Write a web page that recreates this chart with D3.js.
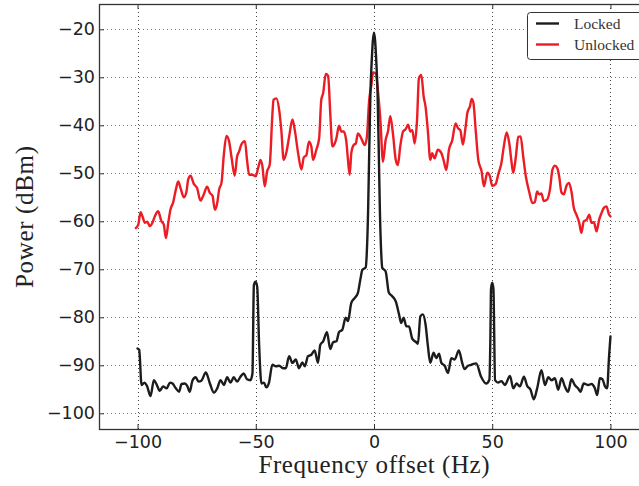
<!DOCTYPE html>
<html>
<head>
<meta charset="utf-8">
<script src="https://cdn.jsdelivr.net/npm/d3@7"></script>
<style>
  body { margin: 0; background: #fff; }
  svg { display: block; }
</style>
</head>
<body>
<div class="container"></div>
<script>
// Locked trace (black)
const lockedFreq = [-100, -99.3, -98.3, -97, -96, -94.5, -93.1, -92, -90.6, -89.2, -87.7, -86.3, -85.2, -83.8, -82.4, -81.4, -80, -79, -77.9, -76.8, -75.4, -74.2, -73, -71.1, -69.4, -67.7, -66.3, -64.9, -63.5, -62.1, -60.7, -59.3, -57.9, -56.5, -55.1, -53.7, -52.3, -51.4, -50.8, -50.1, -49.4, -48.6, -47.6, -46.6, -45.5, -44.4, -43, -41.5, -40.1, -38.5, -37.3, -35.9, -34.5, -33.1, -31.7, -30.3, -29.3, -27.9, -26.5, -25.1, -23.7, -22.7, -21.5, -19.9, -18.5, -17.3, -15.9, -14.8, -13.4, -12, -11, -9.6, -8.2, -6.8, -5.8, -4.9, -3.5, -3, -2.5, -2, -1.5, -1, -0.5, 0, 0.5, 1, 1.5, 2, 2.5, 3, 3.5, 4.9, 6.3, 7.7, 9.2, 10.6, 11.5, 12.5, 13.7, 14.8, 16.2, 17.9, 18.6, 19.6, 20.7, 21.8, 22.8, 23.8, 25.2, 26.3, 27.5, 28.5, 29.9, 31.3, 32.7, 34.1, 35.9, 37.3, 38.3, 39.7, 41.1, 43.2, 45.3, 47.4, 48.8, 49.2, 49.5, 50, 50.5, 51.2, 52.5, 53.9, 55.4, 57.5, 58.9, 60.3, 61.7, 63.4, 64.8, 66.2, 67.6, 69, 70.8, 72.3, 73.7, 75.1, 76.5, 77.9, 79.3, 80.7, 82.1, 83.5, 84.9, 86.3, 87.3, 88.7, 90.6, 92, 93.4, 94.4, 95.5, 96.6, 97.7, 98.6, 99.4, 100];
const lockedPower = [-86.5, -86.8, -94.1, -93.6, -94.3, -96.4, -93.1, -93.9, -95.3, -94.4, -94.8, -93.6, -93.8, -94.8, -95.5, -93.9, -93.8, -94.3, -95.5, -93.2, -92.5, -93.4, -93.2, -91.5, -93.8, -95.7, -94.8, -93.1, -94.1, -92.5, -93.6, -92.5, -93.4, -92.4, -91.7, -92.9, -93.1, -91.7, -73.3, -72.6, -73.6, -85.4, -93.8, -93.6, -94.6, -93.6, -89.9, -90.2, -90.1, -90.6, -90.6, -88.1, -89.5, -88.8, -90.6, -89.4, -90.2, -88.1, -87.8, -86.9, -89.5, -85.7, -85, -83.1, -86.6, -85.2, -85, -83.1, -82.6, -80.1, -80.8, -77, -76, -74.9, -72.2, -70.1, -69.6, -66, -58, -45, -33, -27, -22.5, -20.7, -22.5, -27, -33, -45, -58, -66, -69.7, -70.4, -74.9, -75.6, -76.7, -79.4, -81.2, -80.1, -81.9, -81.9, -84.5, -85.2, -85.5, -79.8, -79.4, -81.5, -86, -89.5, -87.4, -88.5, -87.6, -89.5, -90.1, -91.6, -88.5, -88.8, -86.9, -89.5, -90.8, -90.1, -89.9, -89.6, -92.4, -93.8, -93, -85, -74, -72.8, -74, -93.1, -93.6, -93.3, -94.1, -92.2, -94.8, -93.8, -94.4, -92.4, -94.3, -95.1, -97.1, -94.8, -91, -94.1, -92.5, -93.1, -92.7, -95.1, -92.7, -94.4, -95.5, -92.9, -94.1, -94.8, -95.5, -93.8, -94.1, -93.9, -94.8, -96.2, -92.7, -92.9, -94.4, -94.8, -88.2, -84];

// Unlocked trace (red)
const unlockedFreq = [-100.7, -99.7, -98.7, -97.9, -96.9, -95.9, -94.8, -93.7, -92.7, -91.3, -89.9, -88.9, -88, -87, -86.1, -84.9, -83.8, -82.8, -81.8, -80.4, -79.3, -78.6, -77.6, -76.2, -74.8, -73.4, -72, -70.6, -69.4, -68.3, -67.3, -66.3, -65.5, -64.5, -63.5, -62.4, -61.3, -60.3, -58.9, -57.9, -57, -56.1, -54.6, -53.7, -52.8, -51.4, -50, -49, -48, -47.2, -46.2, -45.2, -44.1, -43, -42.5, -41.3, -40.1, -39.2, -38.2, -37, -35.9, -34.5, -33.5, -32.1, -30.7, -29.7, -28.6, -27.5, -26.5, -25.8, -24.4, -23.2, -22.3, -21.5, -20.4, -19.4, -18.5, -17.6, -16.6, -15.9, -14.8, -13.8, -12.8, -11.7, -11, -10.3, -9.6, -8.6, -7.7, -6.8, -5.4, -3.9, -3, -2.1, -1.1, -0.4, 0.7, 1.7, 2.7, 3.8, 4.9, 5.9, 6.9, 8, 9.2, 10.1, 11.1, 12.3, 13.4, 14.4, 15.4, 16.2, 17.2, 18.2, 19, 20, 21, 21.8, 22.8, 23.8, 24.6, 25.6, 27, 28.5, 29.4, 30.6, 31.7, 33.1, 34.5, 35.5, 36.5, 37.6, 38.7, 39.5, 40.6, 41.3, 42, 43.1, 44.1, 45.5, 46.5, 47.9, 49, 50, 51.5, 52.5, 53.9, 54.9, 56.1, 57.2, 58.2, 58.9, 60, 61, 62, 63.1, 64.2, 65.6, 67, 68, 69, 69.9, 70.8, 71.8, 73.2, 74.4, 75.5, 76.5, 77.5, 78.3, 79.3, 80.3, 81.4, 82.5, 83.5, 84.5, 85.6, 86.8, 87.7, 88.7, 89.9, 91, 92, 93, 94.1, 95.2, 96.2, 97.2, 98.3, 99.4, 100];
const unlockedPower = [-61.4, -60.7, -58.1, -59, -60.3, -60.1, -61, -60.3, -59, -57.9, -60, -60.7, -63.5, -60.3, -57.6, -56, -53.4, -51.7, -53.1, -55, -53.8, -51.3, -50.5, -52.2, -53.1, -55.7, -54.4, -52.8, -54.1, -54.7, -57.6, -56.2, -53.4, -52, -46.1, -42.2, -43.3, -46.5, -50.5, -46.5, -45.4, -44, -43.3, -47.2, -50.3, -50.3, -50.6, -48.9, -47.2, -48.5, -52.7, -49.6, -48.2, -38, -34.7, -34.4, -36.8, -41, -47.2, -45.5, -42.4, -38.8, -41, -45.8, -49.2, -46.7, -46.2, -43.4, -44.4, -47.2, -45.1, -42.7, -34.7, -33.3, -29.3, -29.7, -37.5, -44.4, -43.8, -42.7, -40.1, -41.3, -41.3, -43.4, -47.2, -50.3, -45.8, -44.1, -43.8, -41.7, -42.7, -44.1, -42.4, -35.1, -31.6, -29, -29.2, -33, -38.9, -47.6, -43.1, -41.3, -38.1, -41.7, -47.2, -48.3, -44.4, -41.3, -40.8, -39.9, -41.3, -41, -43.8, -38.9, -30.2, -29.5, -34, -36.1, -41.3, -47.2, -45.8, -46.9, -45.1, -45.8, -47.2, -49.3, -45.1, -43.1, -39.6, -40.6, -41, -44, -40.5, -37.4, -36, -34.5, -35.2, -41.6, -47.2, -49.6, -52.7, -49.9, -50.6, -52.6, -52.2, -50.3, -47.8, -44.4, -41.5, -43.7, -47.8, -49.9, -46.5, -42.4, -42.3, -46.5, -50.6, -53.8, -56.2, -56, -53.8, -54.4, -54.2, -55.8, -55.5, -53.4, -49.2, -48.4, -48.9, -50.6, -54, -54.4, -52.6, -52, -53.8, -57.2, -58.6, -60.3, -62.4, -60, -59.7, -58.6, -60.3, -60.2, -62.1, -59.7, -58.3, -57.2, -56.9, -58.6, -59];

const xTicks = [-100, -50, 0, 50, 100];
const yTicks = [-100, -90, -80, -70, -60, -50, -40, -30, -20];
const seriesNames = ["Locked", "Unlocked"];
const seriesColors = ["#1c1c1c", "#ec1c24"];

const width = 639, height = 486;
const plot = { left: 99, top: 4, right: 649, bottom: 429 };

const x = d3.scaleLinear().domain([-116.3, 116.3]).range([plot.left, plot.right]);
const y = d3.scaleLinear().domain([-103.27, -14.73]).range([plot.bottom, plot.top]);

const svg = d3.select(".container").append("svg")
  .attr("width", width)
  .attr("height", height);

svg.append("defs").append("clipPath").attr("id", "clip")
  .append("rect")
  .attr("x", plot.left).attr("y", plot.top)
  .attr("width", plot.right - plot.left).attr("height", plot.bottom - plot.top);

// grid
const grid = svg.append("g")
  .attr("stroke", "#444")
  .attr("stroke-width", 1)
  .attr("stroke-dasharray", "1,3");
grid.selectAll(".gx").data(xTicks).join("line")
  .attr("x1", d => Math.round(x(d)) + 0.5).attr("x2", d => Math.round(x(d)) + 0.5)
  .attr("y1", plot.top).attr("y2", plot.bottom);
grid.selectAll(".gy").data(yTicks).join("line")
  .attr("stroke", "#777")
  .attr("y1", d => Math.round(y(d)) + 0.5).attr("y2", d => Math.round(y(d)) + 0.5)
  .attr("x1", plot.left).attr("x2", plot.right);

// lines
const line = d3.line().x(d => x(d[0])).y(d => y(d[1])).curve(d3.curveMonotoneX);
const series = [
  d3.zip(lockedFreq, lockedPower),
  d3.zip(unlockedFreq, unlockedPower)
];
const gLines = svg.append("g").attr("clip-path", "url(#clip)");
// draw red first, black on top
[1, 0].forEach(i => {
  gLines.append("path")
    .datum(series[i])
    .attr("fill", "none")
    .attr("stroke", seriesColors[i])
    .attr("stroke-width", 2.4)
    .attr("stroke-linejoin", "round")
    .attr("stroke-linecap", "round")
    .attr("d", line);
});

// axes (ticks pointing inward)
const fmt = d => (d < 0 ? "\u2212" + Math.abs(d) : d);
const xAxis = svg.append("g")
  .attr("transform", `translate(0,${plot.bottom})`)
  .call(d3.axisBottom(x).tickValues(xTicks).tickSize(-5).tickPadding(7).tickFormat(fmt));
const xTop = svg.append("g")
  .attr("transform", `translate(0,${plot.top})`)
  .call(d3.axisTop(x).tickValues(xTicks).tickSize(-5).tickFormat(""));
const yAxis = svg.append("g")
  .attr("transform", `translate(${plot.left},0)`)
  .call(d3.axisLeft(y).tickValues(yTicks).tickSize(-5).tickPadding(4).tickFormat(fmt));

[xAxis, xTop, yAxis].forEach(a => {
  a.select(".domain").remove();
  a.selectAll("line").attr("stroke", "#333");
  a.selectAll("text")
    .attr("fill", "#222")
    .style("font-family", "'DejaVu Sans', sans-serif")
    .style("font-size", "17.5px");
});

// frame
svg.append("rect")
  .attr("x", plot.left + 0.5).attr("y", plot.top + 0.5)
  .attr("width", plot.right - plot.left).attr("height", plot.bottom - plot.top)
  .attr("fill", "none").attr("stroke", "#333").attr("stroke-width", 1.3);

// axis labels
svg.append("text")
  .attr("x", 374).attr("y", 473)
  .attr("text-anchor", "middle")
  .attr("textLength", 231).attr("lengthAdjust", "spacing")
  .style("font-family", "'Liberation Serif', serif")
  .style("font-size", "25px")
  .attr("fill", "#222")
  .text("Frequency offset (Hz)");

svg.append("text")
  .attr("transform", "translate(33,217) rotate(-90)")
  .attr("text-anchor", "middle")
  .attr("textLength", 142).attr("lengthAdjust", "spacing")
  .style("font-family", "'Liberation Serif', serif")
  .style("font-size", "25px")
  .attr("fill", "#222")
  .text("Power (dBm)");

// legend
const legend = svg.append("g");
legend.append("rect")
  .attr("x", 527.5).attr("y", 12.5)
  .attr("width", 116).attr("height", 47)
  .attr("rx", 3)
  .attr("fill", "#fff").attr("stroke", "#333").attr("stroke-width", 1);
seriesNames.forEach((name, i) => {
  const ly = 23.5 + i * 21;
  legend.append("line")
    .attr("x1", 536).attr("x2", 559)
    .attr("y1", ly).attr("y2", ly)
    .attr("stroke", seriesColors[i]).attr("stroke-width", 2.4);
  legend.append("text")
    .attr("x", 574).attr("y", ly + 5)
    .style("font-family", "'Liberation Serif', serif")
    .style("font-size", "15.5px")
    .attr("fill", "#333")
    .text(name);
});
</script>
</body>
</html>
